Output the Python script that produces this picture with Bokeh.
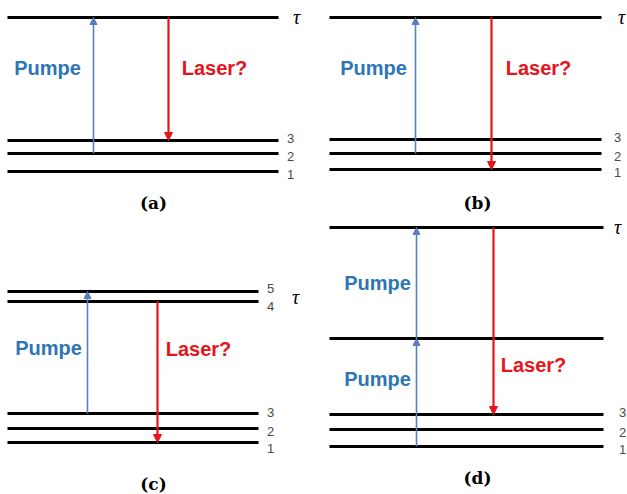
from bokeh.plotting import figure
from bokeh.layouts import gridplot
from bokeh.models import ColumnDataSource, Range1d, Arrow, NormalHead
from bokeh.core.properties import value
from bokeh.embed import file_html
from bokeh.resources import INLINE

# ---------------- data (energy levels per panel, in diagram units) ----------------
# panel (a)
A_LEVELS = [49, 67, 80, 203]
A_LABELS = ["1", "2", "3", ""]
A_PUMP = [(67, 203)]
A_LASER = (203, 80)
# panel (b)
B_LEVELS = [51, 67, 81, 203]
B_LABELS = ["1", "2", "3", ""]
B_PUMP = [(67, 203)]
B_LASER = (203, 51)
# panel (c)
C_LEVELS = [52, 66, 81, 193, 203]
C_LABELS = ["1", "2", "3", "4", "5"]
C_PUMP = [(81, 203)]
C_LASER = (193, 52)
# panel (d)
D_LEVELS = [48, 65, 80, 156, 267]
D_LABELS = ["1", "2", "3", "", ""]
D_PUMP = [(48, 156), (156, 267)]
D_LASER = (267, 80)

PANEL_TITLES = ["(a)", "(b)", "(c)", "(d)"]
PUMP_TEXT = "Pumpe"
LASER_TEXT = "Laser?"
TAU = "τ"

BLUE_TXT = "#2e75b6"
BLUE_ARW = "#5a7fbd"
RED = "#e8141c"
GRAY = "#4a4a4a"


def panel(w, h, ybot, levels, labels, pumps, laser, lay):
    p = figure(width=w, height=h, x_range=Range1d(0, w), y_range=Range1d(ybot, ybot + h),
               output_backend="svg", toolbar_location=None, min_border=0,
               x_axis_location=None, y_axis_location=None)
    p.outline_line_color = None
    p.grid.visible = False
    p.background_fill_color = "white"

    src = ColumnDataSource(dict(x0=[lay["x0"]] * len(levels), x1=[lay["x1"]] * len(levels),
                                y=levels))
    p.segment(x0="x0", y0="y", x1="x1", y1="y", source=src, line_color="black",
              line_width=3)

    lab_y = [y + lay["lab_dy"].get(l, 0) for y, l in zip(levels, labels)]
    lsrc = ColumnDataSource(dict(x=[lay["lab_x"]] * len(levels), y=lab_y, t=labels))
    p.text(x="x", y="y", text="t", source=lsrc, text_font=value("Liberation Sans"),
           text_font_size="13px", text_color=GRAY, text_align="center",
           text_baseline="middle")

    # pump arrows
    for (ys, ye) in pumps:
        p.add_layout(Arrow(x_start=lay["pump_x"], y_start=ys, x_end=lay["pump_x"], y_end=ye,
                           line_color=BLUE_ARW, line_width=1.6,
                           end=NormalHead(size=7, fill_color=BLUE_ARW, line_color=BLUE_ARW,
                                          line_width=1)))
    # laser arrow
    p.add_layout(Arrow(x_start=lay["laser_x"], y_start=laser[0], x_end=lay["laser_x"],
                       y_end=laser[1], line_color=RED, line_width=2.2,
                       end=NormalHead(size=8, fill_color=RED, line_color=RED, line_width=1)))

    for (tx, ty) in lay["pump_txt"]:
        p.text(x=[tx], y=[ty], text=[PUMP_TEXT], text_font=value("Liberation Sans"),
               text_font_style="bold", text_font_size="20px", text_color=BLUE_TXT,
               text_align="center", text_baseline="middle")
    p.text(x=[lay["laser_txt"][0]], y=[lay["laser_txt"][1]], text=[LASER_TEXT],
           text_font=value("Liberation Sans"), text_font_style="bold",
           text_font_size="20px", text_color=RED, text_align="center",
           text_baseline="middle")
    p.text(x=[lay["tau"][0]], y=[lay["tau"][1]], text=[TAU],
           text_font=value("Liberation Serif"), text_font_style="italic",
           text_font_size="20px", text_color="black", text_align="center",
           text_baseline="middle")
    p.text(x=[lay["title"][0]], y=[lay["title"][1]], text=[lay["name"]],
           text_font=value("DejaVu Serif"), text_font_style="bold",
           text_font_size="17px", text_color="black", text_align="center",
           text_baseline="middle")
    return p


lay_a = dict(x0=7, x1=278, lab_x=290, lab_dy={"1": -3, "2": -3, "3": 2},
             pump_x=93, laser_x=168, pump_txt=[(47, 153)], laser_txt=(214, 153),
             tau=(296, 204), title=(153, 18), name=PANEL_TITLES[0])
lay_b = dict(x0=16, x1=288, lab_x=304, lab_dy={"1": -3, "2": -3, "3": 2},
             pump_x=102, laser_x=178, pump_txt=[(60, 153)], laser_txt=(225, 153),
             tau=(308, 204), title=(164, 18), name=PANEL_TITLES[1])
lay_c = dict(x0=7, x1=258, lab_x=270, lab_dy={"1": -6, "2": -3, "3": 1, "4": -5, "5": 3},
             pump_x=87, laser_x=157, pump_txt=[(48, 147)], laser_txt=(198, 146),
             tau=(295, 198), title=(153, 11), name=PANEL_TITLES[2])
lay_d = dict(x0=16, x1=290, lab_x=309, lab_dy={"1": -3, "2": -3, "3": 2},
             pump_x=103, laser_x=180, pump_txt=[(64, 212), (64, 116)], laser_txt=(220, 130),
             tau=(304, 268), title=(164, 17), name=PANEL_TITLES[3])

TOP_H = 213
BOT_H = 281
pa = panel(313, TOP_H, 220 - TOP_H, A_LEVELS, A_LABELS, A_PUMP, A_LASER, lay_a)
pb = panel(314, TOP_H, 220 - TOP_H, B_LEVELS, B_LABELS, B_PUMP, B_LASER, lay_b)
pc = panel(313, BOT_H, 0, C_LEVELS, C_LABELS, C_PUMP, C_LASER, lay_c)
pd = panel(314, BOT_H, 0, D_LEVELS, D_LABELS, D_PUMP, D_LASER, lay_d)

grid = gridplot([[pa, pb], [pc, pd]], toolbar_location=None)
open("out.html", "w").write(file_html(grid, INLINE))
